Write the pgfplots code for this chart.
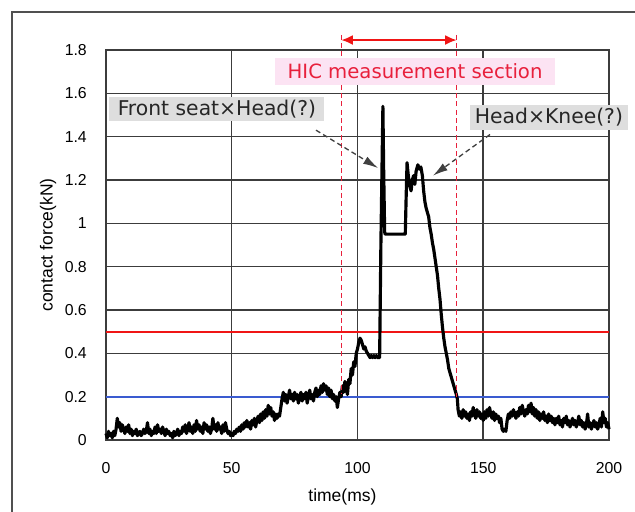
\documentclass[border=0pt]{standalone}
\usepackage{fontspec}
\setmainfont{Liberation Sans}
\newfontfamily\annfont{DejaVu Sans}
\usepackage{pgfplots}
\pgfplotsset{compat=1.18}
\usetikzlibrary{arrows.meta}
\definecolor{gridc}{HTML}{3C3C3C}
\definecolor{hicred}{HTML}{E8203C}
\definecolor{pinkbg}{HTML}{FCE3F3}
\definecolor{graybg}{HTML}{DEDEDE}
\definecolor{bluel}{HTML}{3A5BD0}
\definecolor{redl}{HTML}{F01515}
\definecolor{framec}{HTML}{505050}
\begin{document}
\begin{tikzpicture}
\begin{axis}[name=ax, scale only axis, width=301.8pt, height=234pt,
  xmin=0, xmax=200, ymin=0, ymax=1.8,
  xtick={0,50,100,150,200},
  ytick={0,0.2,0.4,0.6,0.8,1,1.2,1.4,1.6,1.8},
  grid=major, major grid style={gridc, line width=0.9pt},
  axis line style={gridc, line width=0.9pt},
  major tick length=0pt,
  tick label style={font=\fontsize{9.5}{11}\selectfont},
  /pgf/number format/assume math mode=true,
  yticklabel style={xshift=-8pt},
  xticklabel style={yshift=-10pt},
  xlabel={time(ms)}, ylabel={contact force(kN)},
  label style={font=\fontsize{10.5}{12}\selectfont},
  xlabel style={at={(axis description cs:0.47,-0.146)}, anchor=center},
  ylabel style={at={(axis description cs:-0.1153,0.5)}, anchor=center},
  clip=false]
\addplot[bluel, line width=1.2pt] coordinates {(0,0.2) (200,0.2)};
\addplot[redl, line width=1.2pt] coordinates {(0,0.5) (200,0.5)};
\addplot[black, line width=1.9pt, line join=round] coordinates {
(0,0.03)(0.5,0.01)(1,0.04)(1.5,0.02)(2,0.03)(2.5,0.01)(3,0.04)(3.5,0.02)(4,0.05)(4.5,0.10)
(5,0.06)(5.5,0.08)(6,0.04)(6.5,0.07)(7,0.05)(7.5,0.03)(8,0.06)(8.5,0.04)(9,0.07)(9.5,0.03)
(10,0.05)(10.5,0.02)(11,0.04)(11.5,0.03)(12,0.05)(12.5,0.02)(13,0.03)(13.5,0.04)(14,0.02)(14.5,0.03)
(15,0.05)(15.5,0.03)(16,0.04)(16.5,0.08)(17,0.03)(17.5,0.05)(18,0.02)(18.5,0.04)(19,0.03)(19.5,0.06)
(20,0.03)(20.5,0.07)(21,0.04)(21.5,0.05)(22,0.03)(22.5,0.06)(23,0.04)(23.5,0.02)(24,0.05)(24.5,0.03)
(25,0.04)(25.5,0.02)(26,0.03)(26.5,0.01)(27,0.04)(27.5,0.02)(28,0.03)(28.5,0.05)(29,0.02)(29.5,0.04)
(30,0.03)(30.5,0.06)(31,0.04)(31.5,0.07)(32,0.03)(32.5,0.05)(33,0.08)(33.5,0.04)(34,0.06)(34.5,0.03)
(35,0.07)(35.5,0.04)(36,0.09)(36.5,0.05)(37,0.07)(37.5,0.04)(38,0.06)(38.5,0.03)(39,0.08)(39.5,0.05)
(40,0.07)(40.5,0.04)(41,0.06)(41.5,0.03)(42,0.05)(42.5,0.10)(43,0.05)(43.5,0.07)(44,0.04)(44.5,0.08)
(45,0.05)(45.5,0.06)(46,0.03)(46.5,0.07)(47,0.04)(47.5,0.08)(48,0.05)(48.5,0.03)(49,0.04)(49.5,0.02)
(50,0.03)(50.5,0.02)(51,0.04)(51.5,0.03)(52,0.05)(52.5,0.04)(53,0.06)(53.5,0.04)(54,0.07)(54.5,0.05)
(55,0.08)(55.5,0.06)(56,0.09)(56.5,0.06)(57,0.08)(57.5,0.05)(58,0.09)(58.5,0.07)(59,0.10)(59.5,0.06)
(60,0.09)(60.5,0.11)(61,0.08)(61.5,0.12)(62,0.09)(62.5,0.13)(63,0.10)(63.5,0.14)(64,0.11)(64.5,0.16)
(65,0.12)(65.5,0.15)(66,0.11)(66.5,0.13)(67,0.09)(67.5,0.12)(68,0.10)(68.5,0.12)(69,0.11)(69.5,0.15)
(70,0.19)(70.5,0.22)(71,0.18)(71.5,0.21)(72,0.17)(72.5,0.20)(73,0.23)(73.5,0.19)(74,0.21)(74.5,0.18)
(75,0.22)(75.5,0.19)(76,0.21)(76.5,0.17)(77,0.20)(77.5,0.22)(78,0.18)(78.5,0.21)(79,0.19)(79.5,0.22)
(80,0.17)(80.5,0.20)(81,0.23)(81.5,0.19)(82,0.21)(82.5,0.18)(83,0.22)(83.5,0.24)(84,0.20)(84.5,0.23)
(85,0.21)(85.5,0.25)(86,0.22)(86.5,0.26)(87,0.23)(87.5,0.25)(88,0.21)(88.5,0.24)(89,0.20)(89.5,0.23)
(90,0.19)(90.5,0.21)(91,0.18)(91.5,0.20)(92,0.15)(92.5,0.19)(93,0.22)(93.5,0.20)(94,0.25)(94.5,0.22)
(95,0.27)(95.5,0.24)(96,0.21)(96.5,0.28)(97,0.26)(97.5,0.33)(98,0.30)(98.5,0.36)(99,0.34)(99.5,0.40)
(100,0.42)(100.5,0.45)(101,0.47)(101.5,0.46)(102,0.44)(102.5,0.42)(103,0.43)(103.5,0.41)(104,0.40)(104.5,0.39)
(105,0.38)(105.5,0.39)(106,0.38)(106.5,0.39)(107,0.38)(107.5,0.39)(108,0.38)(108.5,0.38)(108.8,0.38)
(109.3,0.90)(109.8,1.30)(110.1,1.54)(110.4,1.25)(110.8,0.96)(111,0.95)(119,0.95)(119.3,1.10)(119.7,1.28)
(120.2,1.22)(120.8,1.17)(121.3,1.15)(121.8,1.20)(122.3,1.22)(122.8,1.18)(123.3,1.24)(124,1.27)(124.6,1.25)
(125.2,1.26)(125.8,1.22)(126.3,1.15)(126.8,1.10)(127.3,1.07)(127.8,1.05)(128.3,1.03)(128.8,0.98)(129.3,0.95)
(129.8,0.91)(130.3,0.88)(130.8,0.84)(131.3,0.80)(131.8,0.76)(132.3,0.70)(132.8,0.65)(133.3,0.58)(133.8,0.52)
(134.3,0.47)(134.8,0.43)(135.3,0.40)(135.8,0.37)(136.3,0.33)(136.8,0.31)(137.3,0.29)(137.8,0.27)(138.3,0.25)
(138.8,0.23)(139.3,0.21)(139.7,0.19)(140,0.14)(140.5,0.11)(141,0.13)
(141.5,0.10)(142,0.14)(142.5,0.11)(143,0.13)(143.5,0.10)(144,0.12)(144.5,0.09)(145,0.13)(145.5,0.11)(146,0.15)
(146.5,0.12)(147,0.10)(147.5,0.14)(148,0.11)(148.5,0.13)(149,0.10)(149.5,0.12)(150,0.09)(150.5,0.13)(151,0.10)
(151.5,0.14)(152,0.11)(152.5,0.15)(153,0.12)(153.5,0.10)(154,0.13)(154.5,0.09)(155,0.12)(155.5,0.10)(156,0.11)
(156.5,0.08)(157,0.10)(157.5,0.05)(158,0.04)(158.5,0.05)(159,0.04)(159.5,0.09)(160,0.12)(160.5,0.10)(161,0.13)
(161.5,0.11)(162,0.14)(162.5,0.12)(163,0.10)(163.5,0.13)(164,0.11)(164.5,0.15)(165,0.12)(165.5,0.16)(166,0.13)
(166.5,0.11)(167,0.14)(167.5,0.12)(168,0.16)(168.5,0.13)(169,0.17)(169.5,0.12)(170,0.15)(170.5,0.11)(171,0.14)
(171.5,0.10)(172,0.13)(172.5,0.09)(173,0.12)(173.5,0.10)(174,0.13)(174.5,0.09)(175,0.11)(175.5,0.08)(176,0.12)
(176.5,0.09)(177,0.11)(177.5,0.08)(178,0.10)(178.5,0.07)(179,0.10)(179.5,0.08)(180,0.11)(180.5,0.07)(181,0.09)
(181.5,0.06)(182,0.10)(182.5,0.08)(183,0.11)(183.5,0.07)(184,0.09)(184.5,0.06)(185,0.08)(185.5,0.10)(186,0.07)
(186.5,0.09)(187,0.06)(187.5,0.08)(188,0.11)(188.5,0.07)(189,0.09)(189.5,0.06)(190,0.08)(190.5,0.05)(191,0.07)
(191.5,0.12)(192,0.06)(192.5,0.08)(193,0.05)(193.5,0.07)(194,0.09)(194.5,0.06)(195,0.08)(195.5,0.05)(196,0.07)
(196.5,0.10)(197,0.06)(197.5,0.13)(198,0.08)(198.5,0.10)(199,0.06)(199.5,0.08)(200,0.05)};
% HIC section markers
\draw[hicred, line width=0.7pt, dash pattern=on 3pt off 2pt] (axis cs:93.5,1.87) -- (axis cs:93.5,0.21);
\draw[hicred, line width=0.7pt, dash pattern=on 3pt off 2pt] (axis cs:139.5,1.87) -- (axis cs:139.5,0.20);
\node[fill=pinkbg, text=hicred, inner sep=0pt, minimum width=168pt, minimum height=16.2pt,
  font=\annfont\fontsize{11.8}{13}\selectfont] at (axis cs:122.9,1.703) {HIC measurement section};
\draw[redl, line width=1.3pt, {Latex[length=7pt,width=6pt]}-{Latex[length=7pt,width=6pt]}]
  (axis cs:93.5,1.846) -- (axis cs:139.5,1.846);
% annotations
\node[fill=graybg, text=black!85, inner sep=0pt, minimum width=129pt, minimum height=14.4pt,
  font=\annfont\fontsize{12.2}{13}\selectfont] at (axis cs:44.1,1.527) {Front seat×Head(?)};
\node[fill=graybg, text=black!85, inner sep=0pt, minimum width=94.8pt, minimum height=15pt,
  font=\annfont\fontsize{12.2}{13}\selectfont] at (axis cs:176.1,1.49) {Head×Knee(?)};
\draw[black!75, line width=0.8pt, dash pattern=on 3pt off 2pt, -{Latex[length=9pt,width=5pt]}]
  (axis cs:83.5,1.43) -- (axis cs:108.2,1.255);
\draw[black!75, line width=0.8pt, dash pattern=on 3pt off 2pt, -{Latex[length=9pt,width=5pt]}]
  (axis cs:152.7,1.41) -- (axis cs:130,1.22);
\end{axis}
\draw[framec, line width=0.9pt] ([xshift=-56.4pt, yshift=-60pt]ax.south west) -- ([xshift=-56.4pt, yshift=256.8pt]ax.south west) -- ([xshift=360pt, yshift=256.8pt]ax.south west);
\pgfresetboundingbox
\path ([xshift=-63.6pt, yshift=-43.2pt]ax.south west) rectangle ([xshift=317.4pt, yshift=264pt]ax.south west);
\end{tikzpicture}
\end{document}
